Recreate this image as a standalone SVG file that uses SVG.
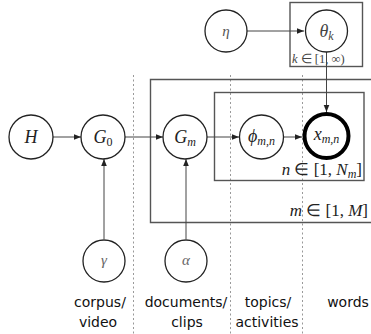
<svg xmlns="http://www.w3.org/2000/svg" width="371" height="334" viewBox="0 0 371 334">
<defs>
<marker id="arr" viewBox="0 0 10 10" refX="10" refY="5" markerWidth="7" markerHeight="7" markerUnits="userSpaceOnUse" orient="auto">
<path d="M0,1 L10,5 L0,9 Z" fill="#222"/>
</marker>
<style>
.node{fill:#fff;stroke:#222;stroke-width:1.3}
.obs{fill:#fff;stroke:#000;stroke-width:4}
.plate{fill:none;stroke:#555;stroke-width:1.4}
.edge{fill:none;stroke:#444;stroke-width:1;marker-end:url(#arr)}
.div{stroke:#999;stroke-width:1;stroke-dasharray:2,2.5}
.m{font-family:"Liberation Serif",serif;font-style:italic;font-size:18px;fill:#222;text-anchor:middle}
.ml{font-family:"Liberation Serif",serif;font-size:17px;fill:#222;text-anchor:end}
.sub{font-size:12px}
.lab{font-family:"DejaVu Sans",sans-serif;font-size:14px;fill:#111;text-anchor:middle}
</style>
</defs>
<g id="dividers">
<line class="div" x1="133.5" y1="75" x2="133.5" y2="334"/>
<line class="div" x1="230.5" y1="75" x2="230.5" y2="334"/>
<line class="div" x1="302.5" y1="75" x2="302.5" y2="334"/>
</g>
<g id="plates">
<rect id="plate-k" class="plate" x="290" y="2.5" width="72.5" height="64"/>
<text class="ml" x="292" y="63" style="text-anchor:start;font-size:12.5px;fill:#444"><tspan font-style="italic">k</tspan> ∈ [1, ∞)</text>
<path id="plate-m" class="plate" d="M375,79.5 H150.5 V222.5 H375"/>
<text class="ml" x="368" y="216"><tspan font-style="italic">m</tspan> ∈ [1, <tspan font-style="italic">M</tspan>]</text>
<rect id="plate-n" class="plate" x="214.5" y="92.5" width="149.5" height="88"/>
<text class="ml" x="362" y="175"><tspan font-style="italic">n</tspan> ∈ [1, <tspan font-style="italic">N</tspan><tspan class="sub" font-style="italic" dy="3">m</tspan><tspan dy="-3">]</tspan></text>
</g>
<g id="connectors">
<line class="edge" x1="53" y1="137" x2="81" y2="137"/>
<line class="edge" x1="125" y1="137" x2="163" y2="137"/>
<line class="edge" x1="207" y1="137" x2="239" y2="137"/>
<line class="edge" x1="284" y1="137" x2="302" y2="137"/>
<line class="edge" x1="247" y1="31" x2="304" y2="31"/>
<line class="edge" x1="326.5" y1="52" x2="326.5" y2="112"/>
<line class="edge" x1="104" y1="239" x2="104" y2="159"/>
<line class="edge" x1="186" y1="239" x2="186" y2="159"/>
</g>
<g id="node-H"><circle class="node" cx="31" cy="137" r="22"/><text class="m" x="31" y="143">H</text></g>
<g id="node-G0"><circle class="node" cx="103" cy="137" r="22"/><text class="m" x="103" y="143">G<tspan class="sub" font-style="normal" dy="3">0</tspan></text></g>
<g id="node-Gm"><circle class="node" cx="185" cy="137" r="22"/><text class="m" x="185" y="143">G<tspan class="sub" dy="3">m</tspan></text></g>
<g id="node-phi"><circle class="node" cx="261.5" cy="137" r="22"/><text class="m" x="261.5" y="142">ϕ<tspan class="sub" dy="3">m,n</tspan></text></g>
<g id="node-x"><circle class="obs" cx="326.5" cy="136" r="22"/><text class="m" x="326.5" y="140">x<tspan class="sub" dy="3">m,n</tspan></text></g>
<g id="node-eta"><circle class="node" cx="226" cy="31" r="21"/><text class="m" x="226" y="36" style="font-size:15px;fill:#555">η</text></g>
<g id="node-theta"><circle class="node" cx="326.5" cy="31" r="21"/><text class="m" x="326.5" y="37" style="font-size:18px;fill:#444">θ<tspan class="sub" dy="3">k</tspan></text></g>
<g id="node-gamma"><circle class="node" cx="104" cy="261" r="21"/><text class="m" x="104" y="265" style="font-size:15px;fill:#666">γ</text></g>
<g id="node-alpha"><circle class="node" cx="186" cy="261" r="21"/><text class="m" x="186" y="265" style="font-size:15px;fill:#666">α</text></g>
<g id="labels">
<text class="lab" x="100" y="307">corpus/</text>
<text class="lab" x="98" y="327">video</text>
<text class="lab" x="186" y="307">documents/</text>
<text class="lab" x="187" y="327">clips</text>
<text class="lab" x="268" y="307">topics/</text>
<text class="lab" x="267" y="327">activities</text>
<text class="lab" x="348" y="307">words</text>
</g>
</svg>
